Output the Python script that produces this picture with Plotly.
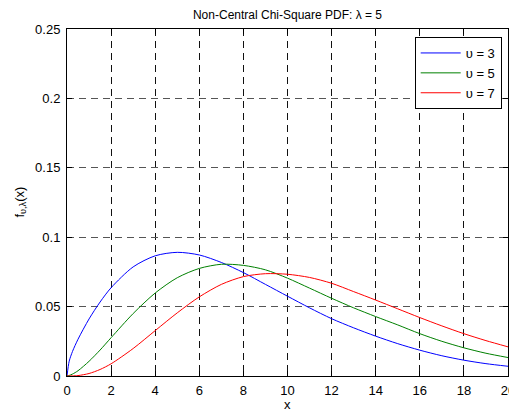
import plotly.graph_objects as go

# Data
x_vals = [0, 0.1, 0.25, 0.5, 1, 1.5, 2, 3, 4, 5, 6, 7, 8, 9, 10, 11, 12, 13, 14, 15, 16, 17, 18, 19, 20]
pdf_nu3 = [0, 0.0107, 0.0177, 0.0265, 0.0411, 0.0533, 0.0636, 0.0786, 0.0866, 0.0891, 0.0872, 0.0818,
           0.0745, 0.0660, 0.0575, 0.0491, 0.0413, 0.0347, 0.0287, 0.0233, 0.0186, 0.0146, 0.0114, 0.0089, 0.0070]
pdf_nu5 = [0, 0.0004, 0.0014, 0.0038, 0.0106, 0.0187, 0.0276, 0.0450, 0.0598, 0.0708, 0.0775, 0.0805,
           0.0797, 0.0765, 0.0705, 0.0633, 0.0560, 0.0491, 0.0428, 0.0368, 0.0305, 0.0250, 0.0203, 0.0164, 0.0133]
pdf_nu7 = [0, 0.0000, 0.0001, 0.0003, 0.0018, 0.0047, 0.0088, 0.0198, 0.0327, 0.0455, 0.0570, 0.0660,
           0.0716, 0.0737, 0.0733, 0.0710, 0.0668, 0.0608, 0.0547, 0.0484, 0.0421, 0.0361, 0.0305, 0.0255, 0.0210]
series_names = ["υ = 3", "υ = 5", "υ = 7"]
series_colors = ["#0000ff", "#008000", "#ff0000"]
x_ticks = [0, 2, 4, 6, 8, 10, 12, 14, 16, 18, 20]
y_ticks = [0, 0.05, 0.1, 0.15, 0.2, 0.25]
y_tick_labels = ["0", "0.05", "0.1", "0.15", "0.2", "0.25"]
x_title = "x"
y_title = "f<sub>υ,λ</sub>(x)"
chart_title = "Non-Central Chi-Square PDF: λ = 5"

FONT = "Liberation Sans, Arial, sans-serif"
L, R, T, B = 67, 1, 29, 36
W, H = 509, 412
PW, PH = W - L - R, H - T - B

fig = go.Figure()
for ys, name, col in zip([pdf_nu3, pdf_nu5, pdf_nu7], series_names, series_colors):
    fig.add_trace(go.Scatter(x=x_vals, y=ys, mode="lines", name=name,
                             line=dict(color=col, width=1, shape="spline", smoothing=0.8)))

axis_common = dict(
    showline=True, linecolor="black", linewidth=1, mirror="ticks",
    ticks="inside", ticklen=5, tickcolor="black", tickwidth=1,
    showgrid=True, gridwidth=1, griddash="7px,5px",
    zeroline=False, automargin=False, tickfont=dict(family=FONT, size=13, color="black"),
)

fig.update_layout(
    width=W, height=H,
    margin=dict(l=L, r=R, t=T, b=B),
    paper_bgcolor="white", plot_bgcolor="white",
    font=dict(family=FONT, size=13, color="black"),
    title=dict(text=chart_title, x=(L + W - R) / 2 / W, xanchor="center",
               y=1 - 15 / H, yanchor="middle", yref="container",
               font=dict(family=FONT, size=12, color="black")),
    xaxis=dict(range=[0, 20], tickvals=x_ticks, ticklabelstandoff=2, ticklabeloverflow="allow",
               gridcolor="#111111", **axis_common),
    yaxis=dict(range=[0, 0.25], tickvals=y_ticks, ticktext=y_tick_labels, ticklabelstandoff=3,
               gridcolor="#555555", **axis_common),
    legend=dict(x=(501.7 - L) / PW, xanchor="right", y=(H - B - 37) / PH, yanchor="top",
                bgcolor="white", bordercolor="black", borderwidth=1,
                font=dict(family=FONT, size=13, color="black"),
                itemwidth=40, tracegroupgap=0),
    showlegend=True,
)

fig.add_annotation(text=x_title, xref="paper", yref="paper", x=0.5, y=-(404 - (H - B)) / PH,
                   xanchor="center", yanchor="middle", showarrow=False,
                   font=dict(family=FONT, size=13, color="black"))
fig.add_annotation(text=y_title, xref="paper", yref="paper", x=(20 - L) / PW, y=0.5,
                   xanchor="center", yanchor="middle", textangle=-90, showarrow=False,
                   font=dict(family=FONT, size=13, color="black"))

fig.write_html("out.html")
